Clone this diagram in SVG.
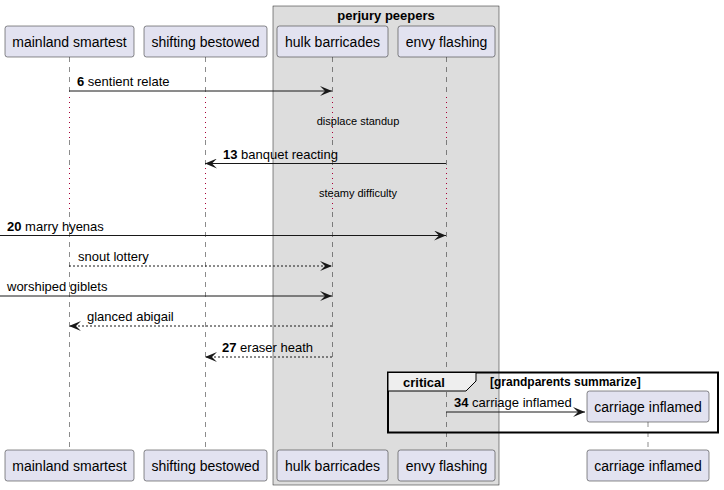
<svg xmlns="http://www.w3.org/2000/svg" width="724" height="490" viewBox="0 0 724 490">
<defs>
<style>
.part rect{fill:#E2E2F0;stroke:#181818;stroke-width:0.5}
.part text,.lbl{font-family:"Liberation Sans",Arial,sans-serif;fill:#000}
.part text{font-size:14px;text-anchor:middle}
.lbl{font-size:13px}
.small{font-family:"Liberation Sans",Arial,sans-serif;font-size:11px;text-anchor:middle}
.life{stroke:#181818;stroke-width:0.5;stroke-dasharray:5,5;fill:none}
.delay{stroke:#A80036;stroke-width:1;stroke-dasharray:1,4;fill:none}
.msg{stroke:#181818;stroke-width:1;fill:none}
.dash{stroke-dasharray:2,2}
.b{font-weight:bold}
</style>
<marker id="ah" viewBox="0 0 12 10" refX="12" refY="5" markerWidth="12" markerHeight="10" markerUnits="userSpaceOnUse" orient="auto">
<polygon points="0,0 12,5 0,10 5,5" fill="#181818"/>
</marker>
</defs>
<rect width="724" height="490" fill="#FFFFFF"/>
<g id="box-perjury-peepers">
<rect x="273" y="6" width="226" height="479" fill="#DDDDDD" stroke="#181818" stroke-width="0.5"/>
<text x="386" y="19.5" text-anchor="middle" font-family="Liberation Sans,Arial,sans-serif" font-size="13" font-weight="bold">perjury peepers</text>
</g>
<g id="lifelines">
<line class="life" x1="69.5" y1="57" x2="69.5" y2="97"/>
<line class="delay" x1="69.5" y1="97" x2="69.5" y2="140"/>
<line class="life" x1="69.5" y1="140" x2="69.5" y2="168"/>
<line class="delay" x1="69.5" y1="168" x2="69.5" y2="212"/>
<line class="life" x1="69.5" y1="212" x2="69.5" y2="450"/>
<line class="life" x1="205.5" y1="57" x2="205.5" y2="97"/>
<line class="delay" x1="205.5" y1="97" x2="205.5" y2="140"/>
<line class="life" x1="205.5" y1="140" x2="205.5" y2="168"/>
<line class="delay" x1="205.5" y1="168" x2="205.5" y2="212"/>
<line class="life" x1="205.5" y1="212" x2="205.5" y2="450"/>
<line class="life" x1="332.5" y1="57" x2="332.5" y2="97"/>
<line class="delay" x1="332.5" y1="97" x2="332.5" y2="140"/>
<line class="life" x1="332.5" y1="140" x2="332.5" y2="168"/>
<line class="delay" x1="332.5" y1="168" x2="332.5" y2="212"/>
<line class="life" x1="332.5" y1="212" x2="332.5" y2="450"/>
<line class="life" x1="446.5" y1="57" x2="446.5" y2="97"/>
<line class="delay" x1="446.5" y1="97" x2="446.5" y2="140"/>
<line class="life" x1="446.5" y1="140" x2="446.5" y2="168"/>
<line class="delay" x1="446.5" y1="168" x2="446.5" y2="212"/>
<line class="life" x1="446.5" y1="212" x2="446.5" y2="450"/>
<line class="life" x1="648" y1="422" x2="648" y2="450"/>
</g>
<g id="p-mainland-smartest" class="part">
<rect x="5" y="26" width="129" height="31" rx="2.5"/><text x="69.5" y="46.5">mainland smartest</text>
<rect x="5" y="450" width="129" height="31" rx="2.5"/><text x="69.5" y="470.5">mainland smartest</text>
</g>
<g id="p-shifting-bestowed" class="part">
<rect x="144" y="26" width="123" height="31" rx="2.5"/><text x="205.5" y="46.5">shifting bestowed</text>
<rect x="144" y="450" width="123" height="31" rx="2.5"/><text x="205.5" y="470.5">shifting bestowed</text>
</g>
<g id="p-hulk-barricades" class="part">
<rect x="277" y="26" width="111" height="31" rx="2.5"/><text x="332.5" y="46.5">hulk barricades</text>
<rect x="277" y="450" width="111" height="31" rx="2.5"/><text x="332.5" y="470.5">hulk barricades</text>
</g>
<g id="p-envy-flashing" class="part">
<rect x="398" y="26" width="97" height="31" rx="2.5"/><text x="446.5" y="46.5">envy flashing</text>
<rect x="398" y="450" width="97" height="31" rx="2.5"/><text x="446.5" y="470.5">envy flashing</text>
</g>
<g id="frame-critical">
<rect x="388" y="372.5" width="330" height="60" fill="none" stroke="#000" stroke-width="2"/>
<polygon points="388,372.5 476,372.5 476,381 466,391 388,391" fill="#EEEEEE" stroke="#000" stroke-width="1"/>
<text x="403" y="387" font-family="Liberation Sans,Arial,sans-serif" font-size="13" font-weight="bold">critical</text>
<text x="490" y="386" font-family="Liberation Sans,Arial,sans-serif" font-size="12" font-weight="bold">[grandparents summarize]</text>
</g>
<g id="p-carriage-inflamed" class="part">
<rect x="587" y="391" width="122" height="31" rx="2.5"/><text x="648" y="411.5">carriage inflamed</text>
<rect x="587" y="450" width="122" height="31" rx="2.5"/><text x="648" y="470.5">carriage inflamed</text>
</g>
<g id="connectors">
<line class="msg" x1="69" y1="91" x2="332" y2="91" marker-end="url(#ah)"/>
<text class="lbl" x="77" y="86"><tspan class="b">6</tspan> sentient relate</text>
<text class="small" x="358" y="125">displace standup</text>
<line class="msg" x1="446" y1="163.5" x2="205" y2="163.5" marker-end="url(#ah)"/>
<text class="lbl" x="223" y="158.5"><tspan class="b">13</tspan> banquet reacting</text>
<text class="small" x="358" y="197">steamy difficulty</text>
<line class="msg" x1="0" y1="235.5" x2="446" y2="235.5" marker-end="url(#ah)"/>
<text class="lbl" x="7" y="230.5"><tspan class="b">20</tspan> marry hyenas</text>
<line class="msg dash" x1="69" y1="266" x2="332" y2="266" marker-end="url(#ah)"/>
<text class="lbl" x="78" y="261">snout lottery</text>
<line class="msg" x1="0" y1="296" x2="332" y2="296" marker-end="url(#ah)"/>
<text class="lbl" x="7" y="291">worshiped giblets</text>
<line class="msg dash" x1="332" y1="326" x2="69" y2="326" marker-end="url(#ah)"/>
<text class="lbl" x="87" y="321">glanced abigail</text>
<line class="msg dash" x1="332" y1="357" x2="205" y2="357" marker-end="url(#ah)"/>
<text class="lbl" x="222" y="352"><tspan class="b">27</tspan> eraser heath</text>
<line class="msg" x1="446" y1="412" x2="585" y2="412" marker-end="url(#ah)"/>
<text class="lbl" x="454" y="407"><tspan class="b">34</tspan> carriage inflamed</text>
</g>
</svg>
